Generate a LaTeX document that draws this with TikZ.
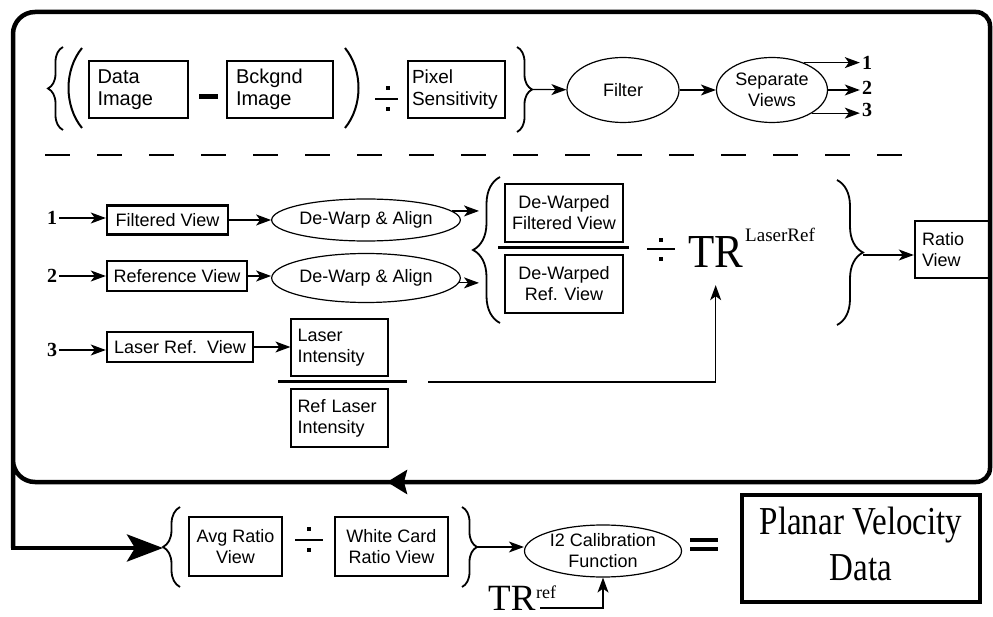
\documentclass[tikz,border=0pt]{standalone}
\usepackage{fontspec}
\setmainfont{Liberation Serif}
\setsansfont{Liberation Sans}
\usetikzlibrary{arrows.meta,shapes.geometric,decorations.pathreplacing,calc}
\begin{document}
\begin{tikzpicture}[x=1pt,y=-1pt,
  sflbl/.style={font=\sffamily\fontsize{18}{21}\selectfont},
  bigsf/.style={font=\sffamily\fontsize{20}{22}\selectfont},
  tbox/.style={draw, line width=1.2pt, inner sep=0pt, sflbl},
  kbox/.style={draw, line width=2.4pt, inner sep=0pt, sflbl, align=center},
  ell/.style={draw, ellipse, line width=1.2pt, inner sep=0pt, sflbl, align=center},
  num/.style={font=\bfseries\fontsize{20}{20}\selectfont, inner sep=2pt},
  arr/.style={-{Stealth[length=15pt,width=11pt,inset=4pt]}, line width=1.2pt},
  frame/.style={line width=4.5pt, line join=miter},
  brc/.style={decorate, line width=1.8pt},
  dv/.style={line width=1.5pt},
  dot/.style={fill=black}]
\useasboundingbox (0,0) rectangle (993,617);

% ---------- outer frame ----------
\draw[frame] (13,548) -- (13,34) arc[start angle=180,end angle=270,radius=22]
  -- (976,12) arc[start angle=270,end angle=360,radius=14]
  -- (990,468) arc[start angle=0,end angle=90,radius=14]
  -- (35,482) arc[start angle=90,end angle=180,radius=22] -- (13,460);
\draw[frame, -{Stealth[length=20pt,width=24pt,inset=3pt]}] (440,482) -- (387,482);
\coordinate (b4) at (163,548);
\draw[frame, -{Stealth[length=36pt,width=27pt,inset=8pt]}] (13,520) -- (13,548) -- (b4);

% ---------- top row ----------
\draw[brc, decoration={brace,amplitude=15pt}] (63,130) -- (63,47);
\draw[line width=2pt] (82,48) .. controls (64,70) and (64,106) .. (82,128);
\node[tbox, bigsf, minimum width=99pt, minimum height=57pt, text width=82pt, align=left] (data) at (138.5,89.5) {Data\\Image};
\draw[line width=5pt] (199,97) -- (218,97);
\node[tbox, bigsf, minimum width=106pt, minimum height=57pt, text width=88pt, align=left] (bck) at (280,89.5) {Bckgnd\\Image};
\draw[line width=2pt] (345,48) .. controls (363,70) and (363,106) .. (345,128);
\draw[dv] (375,99) -- (398,99);
\fill[dot] (385.5,86.5) rectangle (389.5,90.5);
\fill[dot] (385.5,107.5) rectangle (389.5,111.5);
\node[tbox, font=\sffamily\fontsize{19}{22}\selectfont, minimum width=97pt, minimum height=57pt, text width=89pt, align=left] (pix) at (456.5,89.5) {Pixel\\Sensitivity};
\draw[brc, decoration={brace,amplitude=15pt}] (517,47) -- (517,132);
\coordinate (b2) at (532,89.5);
\node[ell, minimum width=112pt, minimum height=65pt] (filter) at (623,90) {Filter};
\node[ell, minimum width=111pt, minimum height=65pt] (sep) at (772,90) {Separate\\Views};
\draw[arr] (b2) -- (filter);
\draw[arr] (filter) -- (sep);
\node[num] (o1) at (867,63) {1};
\node[num] (o2) at (867,88) {2};
\node[num] (o3) at (867,110) {3};
\draw[arr] (sep.41) -- (sep.41 -| o1.west);
\draw[arr] (sep.east) -- (sep.east -| o2.west);
\draw[arr] (sep.-30) -- (sep.-30 -| o3.west);

\draw[line width=1.5pt, dash pattern=on 25pt off 27pt] (45,155) -- (905,155);

% ---------- middle ----------
\node[num] (i1) at (52,218) {1};
\node[num] (i2) at (52,276) {2};
\node[num] (i3) at (52,350) {3};
\node[kbox, minimum width=121pt, minimum height=29pt] (fv) at (167.5,220) {Filtered View};
\node[kbox, minimum width=140pt, minimum height=30pt] (rv) at (177,276) {Reference View};
\node[kbox, minimum width=146pt, minimum height=30pt] (lv) at (180,347) {Laser Ref.\ \ View};
\draw[arr] (i1) -- (i1 -| fv.west);
\draw[arr] (i2) -- (i2 -| rv.west);
\draw[arr] (i3) -- (i3 -| lv.west);
\node[ell, minimum width=150pt, minimum height=42pt] (dw1) at (366,220) {De-Warp \& Align};
\node[ell, minimum width=150pt, minimum height=49pt] (dw2) at (366,278) {De-Warp \& Align};
\draw[arr] (fv.east) -- (fv.east -| dw1.west);
\draw[arr] (rv.east) -- (rv.east -| dw2.west);
\node[tbox, minimum width=97pt, minimum height=57pt, text width=84pt, align=left] (li) at (339.5,347.5) {Laser\\Intensity};
\draw[arr] (lv.east) -- (lv.east -| li.west);
\draw[line width=3pt] (278,382) -- (407,382);
\node[tbox, minimum width=97pt, minimum height=58pt, text width=84pt, align=left] (rli) at (339.5,418) {Ref Laser\\Intensity};

\draw[brc, decoration={brace,amplitude=27pt}] (500,323) -- (500,177);
\coordinate (b3) at (479,250);
\draw[arr] (dw1.6) -- (dw1.6 -| b3);
\draw[arr] (dw2.-3) -- (dw2.-3 -| b3);
\node[kbox, minimum width=118pt, minimum height=58pt] (dfv) at (564,213) {De-Warped\\Filtered View};
\draw[line width=3pt] (498,248) -- (629,248);
\node[kbox, minimum width=118pt, minimum height=58pt] (drv) at (564,284) {De-Warped\\Ref. View};
\draw[dv] (647,249) -- (675,249);
\fill[dot] (659,238) rectangle (663,242);
\fill[dot] (659,257) rectangle (663,261);
\node[font=\fontsize{43}{43}\selectfont, inner sep=0pt, anchor=base west] (tr) at (688,268) {\scalebox{1}[1.1]{TR}};
\node[font=\fontsize{19}{19}\selectfont, inner sep=0pt, anchor=base west] (trsup) at (745,242) {LaserRef};
\coordinate (lfrom) at (428,382);
\draw[arr] (lfrom) -| ([yshift=-17pt]tr.south);
\draw[brc, decoration={brace,amplitude=26pt}] (837,180) -- (837,325);
\coordinate (b5) at (863,255);
\node[kbox, minimum width=74pt, minimum height=57pt, text width=60pt, align=left] (ratio) at (952,249.5) {Ratio\\View};
\draw[arr] (b5) -- (b5 -| ratio.west);

% ---------- bottom ----------
\draw[brc, decoration={brace,amplitude=17pt}] (180,587) -- (180,507);
\node[kbox, line width=2pt, minimum width=93pt, minimum height=59pt] (avg) at (235.5,546.5) {Avg Ratio\\View};
\draw[dv] (295,540) -- (323,540);
\fill[dot] (307,527) rectangle (311,531);
\fill[dot] (307,548) rectangle (311,552);
\node[kbox, line width=2pt, minimum width=113pt, minimum height=59pt] (wc) at (391.5,546.5) {White Card\\Ratio View};
\draw[brc, decoration={brace,amplitude=15pt}] (462,507) -- (462,587);
\coordinate (b6) at (477,547);
\node[ell, minimum width=157pt, minimum height=52pt] (cal) at (603,551) {I2 Calibration\\Function};
\draw[arr] (b6) -- (b6 -| cal.west);
\draw[line width=3.5pt] (690,540) -- (718,540);
\draw[line width=3.5pt] (690,549) -- (718,549);
\node[draw, line width=4.5pt, minimum width=238pt, minimum height=107pt, inner sep=0pt] (pvd) at (861,548.5)
  {\scalebox{1}[1.2]{\fontsize{33}{38}\selectfont\begin{tabular}{@{}c@{}}Planar Velocity\\Data\end{tabular}}};
\node[font=\fontsize{37}{37}\selectfont, inner sep=0pt, anchor=base west] (trb) at (488,610) {TR};
\node[font=\fontsize{18}{18}\selectfont, inner sep=0pt, anchor=base west] (trbsup) at (536,598) {ref};
\coordinate (rl) at (540,608);
\draw[arr] (rl) -| (cal.south);
\end{tikzpicture}
\end{document}
